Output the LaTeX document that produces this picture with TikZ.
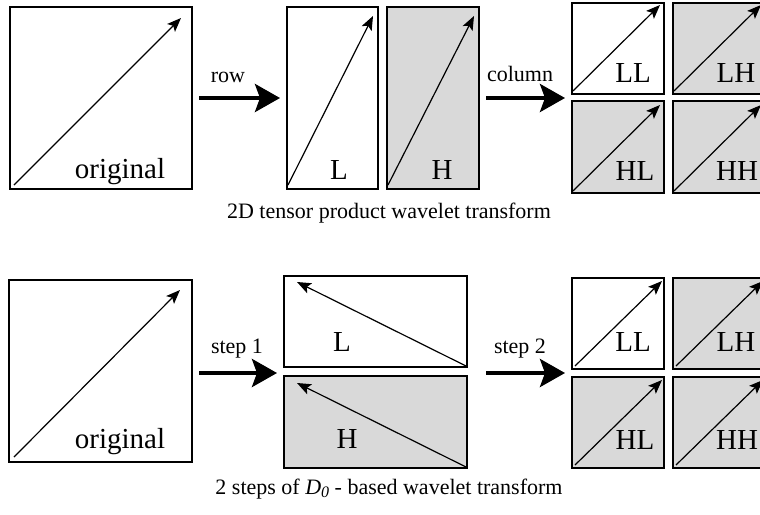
\documentclass[tikz,border=0pt]{standalone}
\usepackage{fontspec}
\setmainfont{Liberation Serif}
\usetikzlibrary{arrows.meta,calc}
\definecolor{boxgray}{RGB}{217,217,217}
\tikzset{
  panel/.style={draw=black, line width=1.5pt, inner sep=0pt, outer sep=0pt},
  wpanel/.style={panel, fill=white},
  gpanel/.style={panel, fill=boxgray},
  vec/.style={line width=1.2pt, -{Stealth[length=14pt,width=11pt,inset=3pt]}},
  bigarrow/.style={line width=4pt, -{Stealth[length=25pt,width=28pt,inset=5pt]}, shorten <=7pt, shorten >=7pt},
  lbl/.style={anchor=base, inner sep=0pt, font=\fontsize{29}{30}\selectfont},
  small/.style={anchor=base, inner sep=0pt, font=\fontsize{22}{24}\selectfont},
}
\begin{document}
\begin{tikzpicture}[x=1pt,y=-1pt]
\useasboundingbox (0,0) rectangle (760,514);
\clip (0,0) rectangle (760,514);
% ---------- top row ----------
\node[wpanel, minimum width=182pt, minimum height=182pt] (O1) at (101,98) {};
\node[wpanel, minimum width=91pt, minimum height=182pt] (L1) at (332.5,98) {};
\node[gpanel, minimum width=92pt, minimum height=182pt] (H1) at (433,98) {};
\node[wpanel, minimum width=92pt, minimum height=91pt] (LL1) at (618,48.5) {};
\node[gpanel, minimum width=92pt, minimum height=91pt] (LH1) at (719,48.5) {};
\node[gpanel, minimum width=92pt, minimum height=92pt] (HL1) at (618,147) {};
\node[gpanel, minimum width=92pt, minimum height=92pt] (HH1) at (719,147) {};

\draw[vec] ($(O1.south west)+(4,-4)$) -- ($(O1.north east)+(-11,11)$);
\draw[vec] ($(L1.south west)+(1,-4)$) -- ($(L1.north east)+(-5,9)$);
\draw[vec] ($(H1.south west)+(1,-4)$) -- ($(H1.north east)+(-5,9)$);
\draw[vec] ($(LL1.south west)+(1,-3)$) -- ($(LL1.north east)+(-4,2)$);
\draw[vec] ($(LH1.south west)+(1,-3)$) -- ($(LH1.north east)+(-4,2)$);
\draw[vec] ($(HL1.south west)+(1,-2)$) -- ($(HL1.north east)+(-4,4)$);
\draw[vec] ($(HH1.south west)+(1,-2)$) -- ($(HH1.north east)+(-4,4)$);

\node[lbl] (tO1) at (120,178) {original};
\node[lbl] (tL1) at (339,179) {L};
\node[lbl] (tH1) at (442,179) {H};
\node[lbl] (tLL1) at (633,82) {LL};
\node[lbl] (tLH1) at (736,82) {LH};
\node[lbl] (tHL1) at (635,180) {HL};
\node[lbl] (tHH1) at (737,180) {HH};

\coordinate (g1) at ($(LL1.south west)!0.5!(HL1.north west)$);
\draw[bigarrow] (O1.east) -- (L1.west);
\draw[bigarrow] (H1.east) -- (H1.east -| g1);
\node[small] (row) at (228,82) {row};
\node[small] (col) at (520,81) {column};
\node[small] (cap1) at (389,218) {2D tensor product wavelet transform};

% ---------- bottom row ----------
\node[wpanel, minimum width=183pt, minimum height=182pt] (O2) at (100.5,371) {};
\node[wpanel, minimum width=183pt, minimum height=91pt] (L2) at (375.5,321.5) {};
\node[gpanel, minimum width=183pt, minimum height=92pt] (H2) at (375.5,422) {};
\node[wpanel, minimum width=92pt, minimum height=91pt] (LL2) at (618,323.5) {};
\node[gpanel, minimum width=92pt, minimum height=91pt] (LH2) at (719,323.5) {};
\node[gpanel, minimum width=92pt, minimum height=91pt] (HL2) at (618,422.5) {};
\node[gpanel, minimum width=92pt, minimum height=91pt] (HH2) at (719,422.5) {};

\draw[vec] ($(O2.south west)+(5,-5)$) -- ($(O2.north east)+(-12,10)$);
\draw[vec] ($(L2.south east)+(-1,-1)$) -- ($(L2.north west)+(13,6)$);
\draw[vec] ($(H2.south east)+(-1,-1)$) -- ($(H2.north west)+(13,7)$);
\draw[vec] ($(LL2.south west)+(3,-3)$) -- ($(LL2.north east)+(-2,3)$);
\draw[vec] ($(LH2.south west)+(3,-3)$) -- ($(LH2.north east)+(-2,3)$);
\draw[vec] ($(HL2.south west)+(3,-3)$) -- ($(HL2.north east)+(-2,3)$);
\draw[vec] ($(HH2.south west)+(3,-3)$) -- ($(HH2.north east)+(-2,3)$);

\node[lbl] (tO2) at (120,448) {original};
\node[lbl] (tL2) at (342,351) {L};
\node[lbl] (tH2) at (347,448) {H};
\node[lbl] (tLL2) at (633,351) {LL};
\node[lbl] (tLH2) at (736,351) {LH};
\node[lbl] (tHL2) at (635,449) {HL};
\node[lbl] (tHH2) at (737,449) {HH};

\coordinate (m2) at ($(L2.south west)!0.5!(H2.north west)$);
\coordinate (m2e) at ($(L2.south east)!0.5!(H2.north east)$);
\coordinate (g2) at ($(LL2.south west)!0.5!(HL2.north west)$);
\draw[bigarrow] (O2.east |- 0,373) -- (m2 |- 0,373);
\draw[bigarrow, shorten <=19pt] (m2e |- 0,373) -- (g2 |- 0,373);
\node[small] (s1) at (237,353) {step 1};
\node[small] (s2) at (520,353) {step 2};
\node[small] (cap2) at (389,494) {2 steps of {\itshape D\raisebox{-0.35ex}{\fontsize{16}{16}\selectfont 0}} - based wavelet transform};
\end{tikzpicture}
\end{document}
